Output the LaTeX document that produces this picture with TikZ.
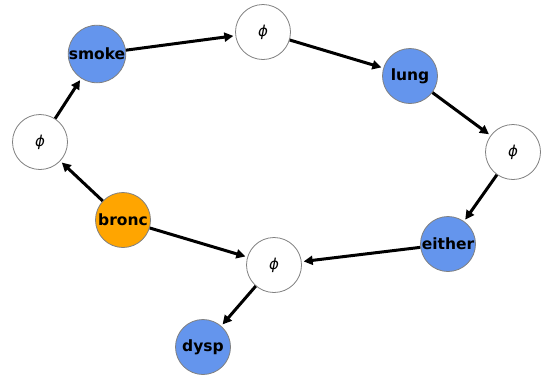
\documentclass[tikz,border=0pt]{standalone}
\usepackage{fontspec}
\setmainfont{DejaVu Sans}
\usetikzlibrary{arrows.meta}

\definecolor{var area}{HTML}{6495ED}
\definecolor{obs area}{HTML}{FFA500}
\colorlet{node edge}{black!50}
\tikzset{
  filled/.style={fill=var area, draw=node edge, line width=0.8pt},
  outline/.style={fill=white, draw=node edge, line width=0.8pt}
  }
\tikzstyle{edge} = [draw, line width=3pt, -{Triangle[length=9pt,width=9pt]}, shorten >=2pt]
\tikzstyle{vertex}=[circle,minimum size=55pt,inner sep=0pt,font=\fontsize{15.5}{17}\selectfont\bfseries]
\tikzstyle{factor}=[vertex,outline,font=\fontsize{15}{16}\selectfont\itshape]

\begin{document}
\begin{tikzpicture}[x=1pt,y=-1pt]
  \useasboundingbox (0,0) rectangle (546,376);

  \foreach \pos/\name in {{(97, 54)/smoke}, {(410, 76)/lung}, {(448, 244)/either}, {(203, 347)/dysp}} {
    \node[vertex,filled] (\name) at \pos {\name};
  }
  \node[vertex,filled,fill=obs area] (bronc) at (123, 220) {bronc};

  \foreach \pos/\name in {{(263, 32)/fsl}, {(513, 152)/fle}, {(274, 265)/fbd}, {(40, 142)/fbs}} {
    \node[factor] (\name) at \pos {ϕ};
  }

  \path[edge] (smoke) -- (fsl);
  \path[edge] (fsl) -- (lung);
  \path[edge] (lung) -- (fle);
  \path[edge] (fle) -- (either);
  \path[edge] (either) -- (fbd);
  \path[edge] (bronc) -- (fbd);
  \path[edge] (fbd) -- (dysp);
  \path[edge] (bronc) -- (fbs);
  \path[edge] (fbs) -- (smoke);
\end{tikzpicture}
\end{document}
